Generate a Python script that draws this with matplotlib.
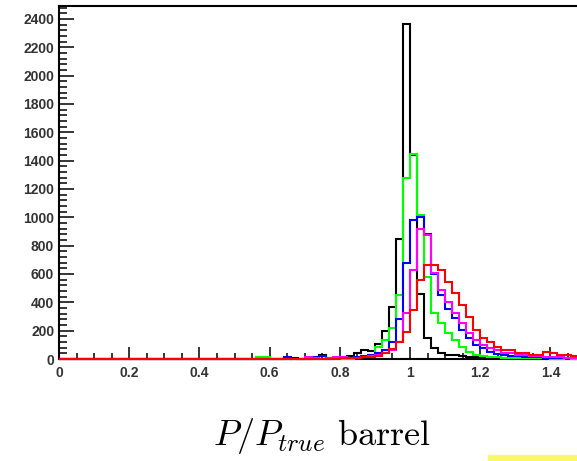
"""
Momentum resolution P/P_true in the barrel, ROOT style overlay of five histograms.
"""

import numpy as np
import matplotlib
matplotlib.use("Agg")
import matplotlib.pyplot as plt
from matplotlib.ticker import MultipleLocator

# Bin edges: 0.02 wide from 0 to 1.5, all bins below 0.54 are empty
edges = np.round(np.arange(0.0, 1.5001, 0.02), 2)
n_empty = 27  # bins between 0.0 and 0.54

# Counts per bin from 0.54 to 1.50 (48 bins)
counts_black = [0, 0, 0, 0, 0, 0, 10, 0, 0, 0, 25, 0, 10, 15, 20, 40,
                65, 55, 105, 200, 370, 850, 2365, 1440, 460, 150, 75, 40,
                30, 25, 20, 15, 12, 10, 8, 6, 5, 5, 4, 3, 3, 2, 2, 2, 1, 1, 1, 0]
counts_green = [0, 15, 15, 0, 0, 0, 0, 0, 0, 0, 0, 0, 0, 0, 0, 5,
                15, 30, 85, 135, 220, 455, 1275, 1450, 1015, 580, 325, 255,
                185, 135, 88, 52, 30, 22, 15, 12, 10, 8, 6, 5, 10, 10, 4, 3, 3, 8, 3, 2]
counts_blue = [0, 0, 0, 0, 0, 15, 0, 0, 0, 15, 20, 10, 5, 10, 10, 15,
               20, 25, 40, 65, 120, 280, 680, 980, 1000, 880, 600, 450,
               350, 287, 205, 148, 100, 77, 52, 35, 28, 22, 18, 15, 12, 15, 10, 10, 8, 8, 10, 5]
counts_magenta = [0, 0, 0, 0, 0, 0, 0, 0, 15, 10, 0, 10, 15, 15, 5, 10,
                  15, 20, 25, 40, 60, 120, 322, 630, 915, 875, 607, 487,
                  404, 322, 254, 183, 134, 99, 75, 60, 45, 40, 30, 25, 22, 18, 15, 15, 12, 10, 10, 8]
counts_red = [0, 0, 0, 0, 0, 0, 0, 0, 0, 0, 0, 0, 0, 5, 8, 10,
              12, 15, 20, 40, 70, 120, 190, 345, 557, 660, 660, 628,
              546, 466, 378, 295, 205, 150, 118, 82, 64, 60, 45, 40, 30, 28, 50, 45, 28, 25, 20, 15]

series = [
    (counts_black, "black"),
    (counts_green, "#00ff00"),
    (counts_blue, "#0000ff"),
    (counts_magenta, "#ff00ff"),
    (counts_red, "#ff0000"),
]

x_ticks = [0, 0.2, 0.4, 0.6, 0.8, 1.0, 1.2, 1.4]
x_tick_labels = ["0", "0.2", "0.4", "0.6", "0.8", "1", "1.2", "1.4"]
y_ticks = list(range(0, 2401, 200))

W, H = 577, 461
fig = plt.figure(figsize=(W / 100, H / 100), dpi=100)
ax = fig.add_axes([59 / W, 1 - 359 / H, 1 - 59 / W, (359 - 6) / H])

for counts, color in series:
    full = np.concatenate([np.zeros(n_empty), np.array(counts, dtype=float)])
    ax.stairs(full, edges, baseline=None, color=color, linewidth=1.5,
              zorder=3, clip_on=False)

ax.set_xlim(0, (W - 59) / 351)
ax.set_ylim(0, 2491)

ax.spines["right"].set_visible(False)
for side in ("left", "top", "bottom"):
    ax.spines[side].set_linewidth(1.5)

ax.set_xticks(x_ticks)
ax.set_xticklabels(x_tick_labels)
ax.set_yticks(y_ticks)
ax.xaxis.set_minor_locator(MultipleLocator(0.05))
ax.yaxis.set_minor_locator(MultipleLocator(40))

ax.tick_params(axis="both", which="both", direction="in", top=False, right=False,
               width=1.1, labelsize=10, labelcolor="#333333")
ax.tick_params(axis="x", which="major", length=8.5, pad=5)
ax.tick_params(axis="x", which="minor", length=4.3)
ax.tick_params(axis="y", which="major", length=10.8, pad=3.5)
ax.tick_params(axis="y", which="minor", length=5.8)
for lab in ax.get_xticklabels() + ax.get_yticklabels():
    lab.set_family("Liberation Sans")
    lab.set_weight("bold")

plt.rcParams["mathtext.fontset"] = "cm"
fig.text(322 / W, 1 - 445 / H, r"$P/P_{true}\ \mathrm{barrel}$",
         ha="center", va="baseline", fontsize=26)

# Yellow strip in the bottom right corner
fig.patches.append(plt.Rectangle((488 / W, 0), 1 - 488 / W, 6 / H,
                                 transform=fig.transFigure, color="#f8f86a",
                                 zorder=0))

fig.savefig("out.png", dpi=100)
plt.close(fig)
